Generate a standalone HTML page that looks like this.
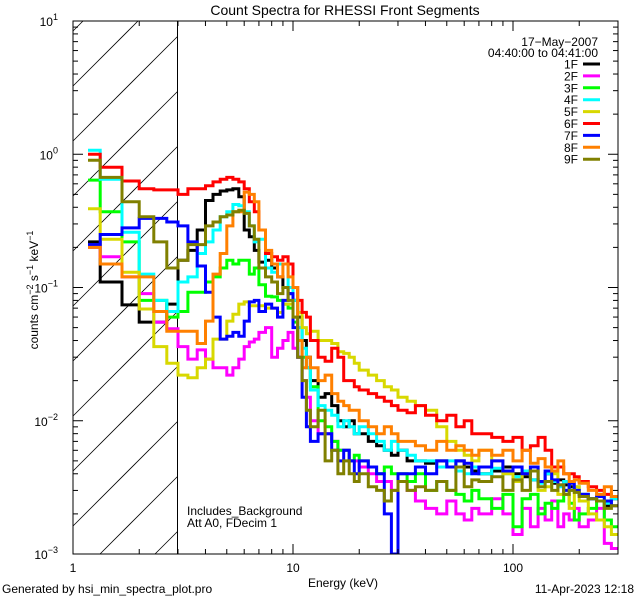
<!DOCTYPE html>
<html><head><meta charset="utf-8"><style>
html,body{margin:0;padding:0;background:#fff;width:640px;height:600px;overflow:hidden;}
svg{display:block;font-family:"Liberation Sans",sans-serif;}
</style></head><body>
<svg id="chart" width="640" height="600" viewBox="0 0 640 600" xmlns="http://www.w3.org/2000/svg">
<defs><clipPath id="plotclip"><rect x="73" y="21" width="545" height="533"/></clipPath></defs>
<rect x="0" y="0" width="640" height="600" fill="#fff"/>
<text x="345" y="15" font-size="14" text-anchor="middle">Count Spectra for RHESSI Front Segments</text>
<g id="hatch"></g>
<line x1="177.5" y1="21" x2="177.5" y2="554" stroke="#000" stroke-width="1"/>
<g id="series" clip-path="url(#plotclip)"></g>
<g id="axes"></g>
<text x="343" y="587" font-size="12" text-anchor="middle">Energy (keV)</text>
<text transform="translate(38,290) rotate(-90)" font-size="12" text-anchor="middle">counts cm<tspan dy="-5" font-size="9">−2</tspan><tspan dy="5"> s</tspan><tspan dy="-5" font-size="9">−1</tspan><tspan dy="5"> keV</tspan><tspan dy="-5" font-size="9">−1</tspan></text>
<text x="598" y="46" font-size="12" text-anchor="end">17−May−2007</text>
<text x="598" y="57" font-size="12" text-anchor="end">04:40:00 to 04:41:00</text>
<g id="legend"></g>
<text x="187" y="515" font-size="12">Includes_Background</text>
<text x="187" y="527" font-size="12">Att A0, FDecim 1</text>
<text x="2" y="593" font-size="12">Generated by hsi_min_spectra_plot.pro</text>
<text x="634" y="593" font-size="12" text-anchor="end">11-Apr-2023 12:18</text>
</svg>
<script>
const energyEdges = [1.17,1.33,1.67,2.0,2.33,2.67,3.0,3.33,3.67,4.0,4.33,4.67,5.0,5.33,5.67,6.0,6.33,6.67,7.0,
 7.5,8,8.5,9,9.5,10,10.5,11,11.5,
 12,13,14,15,16,17,18,19,20,
 22,24,26,28,30,33,36,
 40,45,50,55,60,65,70,
 80,90,100,110,120,130,140,150,160,170,180,190,200,
 220,240,260,280,300];
const seriesNames = ["1F","2F","3F","4F","5F","6F","7F","8F","9F"];
const seriesColors = ["#000000","#ff00ff","#00ff00","#00ffff","#d8d800","#ff0000","#0000ff","#ff8000","#808000"];
const s1F = [0.22,0.11,0.074,0.055,0.055,0.075,0.16,0.19,0.27,0.45,0.5,0.53,0.54,0.55,0.48,0.27,0.24,0.19,0.155,
 0.16,0.14,0.12,0.1,0.09,0.08,0.06,0.04,0.03,
 0.02,0.015,0.016,0.013,0.01,0.009,0.01,0.008,0.008,
 0.007,0.0065,0.006,0.0055,0.006,0.005,0.005,
 0.0048,0.005,0.0045,0.005,0.0045,0.0042,0.004,
 0.0042,0.0045,0.004,0.0038,0.0036,0.0035,0.004,0.0034,0.0036,0.0033,0.0032,0.003,0.0028,
 0.0026,0.0025,0.0023,0.0026];
const s2F = [0.2,0.17,0.12,0.09,0.055,0.049,0.036,0.029,0.034,0.029,0.025,0.025,0.022,0.025,0.029,0.036,0.039,0.041,0.046,
 0.05,0.03,0.035,0.04,0.046,0.035,0.03,0.02,0.015,
 0.01,0.008,0.008,0.007,0.006,0.006,0.005,0.005,0.0045,
 0.004,0.0035,0.0035,0.003,0.0035,0.003,0.0025,
 0.0022,0.002,0.0025,0.002,0.0018,0.0022,0.002,
 0.0026,0.002,0.0014,0.0022,0.0016,0.0022,0.0018,0.0025,0.0016,0.002,0.0018,0.0022,0.0016,
 0.0018,0.0022,0.0012,0.0011];
const s3F = [0.64,0.37,0.22,0.08,0.08,0.06,0.066,0.092,0.092,0.11,0.12,0.14,0.16,0.15,0.16,0.16,0.126,0.14,0.105,
 0.086,0.085,0.08,0.075,0.07,0.055,0.04,0.03,0.025,
 0.018,0.01,0.009,0.007,0.006,0.006,0.005,0.0055,0.005,
 0.0045,0.004,0.0045,0.004,0.004,0.0035,0.004,
 0.003,0.0035,0.003,0.0028,0.0025,0.003,0.0026,
 0.0022,0.0028,0.0016,0.0026,0.0028,0.002,0.0024,0.0022,0.0025,0.0028,0.0024,0.0018,0.002,
 0.0022,0.0025,0.0018,0.0016];
const s4F = [1.07,0.65,0.26,0.126,0.08,0.066,0.11,0.12,0.18,0.22,0.27,0.34,0.37,0.42,0.41,0.37,0.29,0.22,0.23,
 0.14,0.13,0.15,0.15,0.1,0.08,0.05,0.035,0.025,
 0.017,0.013,0.012,0.011,0.009,0.01,0.009,0.008,0.009,
 0.008,0.007,0.006,0.007,0.006,0.0055,0.005,
 0.005,0.0045,0.005,0.0042,0.004,0.0045,0.004,
 0.0044,0.004,0.0038,0.0042,0.0036,0.0034,0.004,0.0035,0.0032,0.0035,0.003,0.0032,0.0028,
 0.0026,0.0028,0.0024,0.0026];
const s5F = [0.39,0.23,0.13,0.069,0.036,0.027,0.022,0.021,0.025,0.029,0.041,0.041,0.056,0.063,0.075,0.078,0.073,0.073,0.073,
 0.07,0.07,0.065,0.075,0.075,0.06,0.065,0.05,0.045,
 0.047,0.04,0.04,0.038,0.033,0.032,0.03,0.027,0.024,
 0.022,0.02,0.018,0.017,0.015,0.014,0.013,
 0.012,0.009,0.007,0.006,0.0055,0.005,0.006,
 0.005,0.004,0.0035,0.004,0.0045,0.003,0.0032,0.004,0.0028,0.003,0.0022,0.0032,0.0025,
 0.002,0.0018,0.0016,0.0014];
const s6F = [1.0,0.8,0.63,0.55,0.54,0.54,0.5,0.55,0.55,0.58,0.62,0.65,0.67,0.65,0.62,0.55,0.44,0.37,0.27,
 0.18,0.17,0.16,0.17,0.15,0.1,0.08,0.065,0.06,
 0.04,0.03,0.028,0.035,0.03,0.02,0.02,0.018,0.017,
 0.016,0.015,0.014,0.013,0.012,0.0115,0.013,
 0.011,0.01,0.011,0.009,0.01,0.008,0.008,
 0.0075,0.007,0.0075,0.006,0.0065,0.0075,0.006,0.0045,0.0045,0.004,0.004,0.0038,0.0035,
 0.0032,0.003,0.0028,0.0027];
const s7F = [0.21,0.25,0.28,0.33,0.33,0.31,0.29,0.22,0.145,0.092,0.06,0.041,0.043,0.046,0.043,0.056,0.078,0.08,0.066,
 0.075,0.07,0.06,0.08,0.09,0.05,0.03,0.015,0.009,
 0.007,0.008,0.008,0.006,0.005,0.006,0.005,0.004,0.005,
 0.0045,0.004,0.002,0.001,0.004,0.004,0.0045,
 0.004,0.005,0.0045,0.005,0.0048,0.004,0.0045,
 0.005,0.0042,0.0045,0.004,0.0045,0.0035,0.0042,0.0036,0.0033,0.003,0.0034,0.003,0.0028,
 0.0026,0.0027,0.0025,0.0023];
const s8F = [0.2,0.15,0.12,0.12,0.066,0.047,0.047,0.047,0.038,0.056,0.126,0.18,0.29,0.37,0.37,0.52,0.5,0.44,0.27,
 0.19,0.15,0.12,0.15,0.12,0.1,0.04,0.025,0.03,
 0.025,0.02,0.022,0.016,0.014,0.013,0.012,0.012,0.01,
 0.009,0.008,0.009,0.008,0.007,0.007,0.0065,
 0.006,0.007,0.006,0.0065,0.006,0.0055,0.006,
 0.0055,0.006,0.005,0.006,0.0048,0.0052,0.0045,0.0042,0.005,0.004,0.0035,0.0036,0.0034,
 0.003,0.0028,0.0032,0.0027];
const s9F = [0.9,0.67,0.44,0.34,0.22,0.14,0.16,0.21,0.21,0.29,0.31,0.34,0.35,0.37,0.38,0.36,0.29,0.23,0.14,
 0.12,0.11,0.09,0.1,0.08,0.06,0.03,0.02,0.012,
 0.009,0.012,0.005,0.006,0.004,0.005,0.004,0.0035,0.004,
 0.0032,0.003,0.0025,0.003,0.0035,0.003,0.0032,
 0.003,0.0035,0.003,0.0045,0.0032,0.0036,0.0035,
 0.0038,0.003,0.0036,0.003,0.0042,0.0032,0.0035,0.003,0.0033,0.0028,0.003,0.0029,0.0027,
 0.0026,0.0025,0.0022,0.0023];
const seriesValues = [s1F,s2F,s3F,s4F,s5F,s6F,s7F,s8F,s9F];
const xTickValues = [1,10,100];
const xTickLabels = ["1","10","100"];
const yTickExponents = [-3,-2,-1,0,1];

const NS = "http://www.w3.org/2000/svg";
const X0 = 73, X1 = 618, Y0 = 554, Y1 = 21;
const XMIN = 0, XDEC = 220;
const YMIN = -3, YDEC = 133.25;
const HX1 = 177.5;
function xScale(e){ return X0 + (Math.log10(e) - XMIN) * XDEC; }
function yScale(v){ return Y0 - (Math.log10(v) - YMIN) * YDEC; }
function mk(tag, attrs){ const el = document.createElementNS(NS, tag); for (const k in attrs) el.setAttribute(k, attrs[k]); return el; }

const hatch = document.getElementById('hatch');
for (let c = 104; c <= 731; c += 55) {
  const xa = Math.max(X0, c - Y0), xb = Math.min(HX1, c - Y1);
  if (xb <= xa) continue;
  const ln = mk('line', {x1: xa, y1: c - xa, x2: xb, y2: c - xb, stroke: '#000', 'stroke-width': 0.8});
  
  
  hatch.appendChild(ln);
}

const sg = document.getElementById('series');
seriesValues.forEach((vals, si) => {
  const n = Math.min(vals.length, energyEdges.length - 1);
  let d = '';
  for (let i = 0; i < n; i++) {
    const xa = xScale(energyEdges[i]), xb = Math.min(X1, xScale(energyEdges[i + 1]));
    if (xa >= X1) break;
    const y = Math.min(Y0 + 2, yScale(Math.max(vals[i], 1e-4)));
    d += (i === 0 ? 'M' : 'L') + xa.toFixed(1) + ',' + y.toFixed(1) + 'L' + xb.toFixed(1) + ',' + y.toFixed(1);
  }
  const p = mk('path', {d: d, fill: 'none', stroke: seriesColors[si], 'stroke-width': 3, 'stroke-linejoin': 'miter'});
  
  
  sg.appendChild(p);
});

const ax = document.getElementById('axes');
const frame = mk('rect', {x: X0, y: Y1, width: X1 - X0, height: Y0 - Y1, fill: 'none', stroke: '#000', 'stroke-width': 1});


ax.appendChild(frame);
for (let dec = 0; dec <= 2; dec++) {
  for (let m = 1; m <= 9; m++) {
    const e = m * Math.pow(10, dec);
    const x = xScale(e);
    if (x > X1) continue;
    const len = m === 1 ? 10 : 5;
    const t1 = mk('line', {x1: x, y1: Y0, x2: x, y2: Y0 - len, stroke: '#000'});
    
    
    ax.appendChild(t1);
    const t2 = mk('line', {x1: x, y1: Y1, x2: x, y2: Y1 + len, stroke: '#000'});
    
    
    ax.appendChild(t2);
  }
}
xTickValues.forEach((v, i) => {
  const t = mk('text', {x: xScale(v), y: 572, 'font-size': 12, 'text-anchor': 'middle'});
  t.textContent = xTickLabels[i];
  
  
  ax.appendChild(t);
});
yTickExponents.forEach(ex => {
  for (let m = 1; m <= 9; m++) {
    if (ex === 1 && m > 1) break;
    const y = yScale(m * Math.pow(10, ex));
    const len = m === 1 ? 10 : 5;
    const t1 = mk('line', {x1: X0, y1: y, x2: X0 + len, y2: y, stroke: '#000'});
    
    
    ax.appendChild(t1);
    const t2 = mk('line', {x1: X1, y1: y, x2: X1 - len, y2: y, stroke: '#000'});
    
    
    ax.appendChild(t2);
  }
  const y = yScale(Math.pow(10, ex));
  const t = mk('text', {x: 58, y: y + 5, 'font-size': 12, 'text-anchor': 'end'});
  
  
  const a = mk('tspan', {}); a.textContent = '10';
  const b = mk('tspan', {dy: -6, 'font-size': 9}); b.textContent = String(ex).replace('-', '−');
  t.appendChild(a); t.appendChild(b);
  ax.appendChild(t);
});

const lg = document.getElementById('legend');
seriesNames.forEach((nm, i) => {
  const y = 64 + i * 11.9;
  const t = mk('text', {x: 578, y: y + 4.5, 'font-size': 12, 'text-anchor': 'end'});
  t.textContent = nm;
  
  
  lg.appendChild(t);
  const l = mk('line', {x1: 583, y1: y, x2: 600, y2: y, stroke: seriesColors[i], 'stroke-width': 3});
  
  
  lg.appendChild(l);
});
</script>
</body></html>
